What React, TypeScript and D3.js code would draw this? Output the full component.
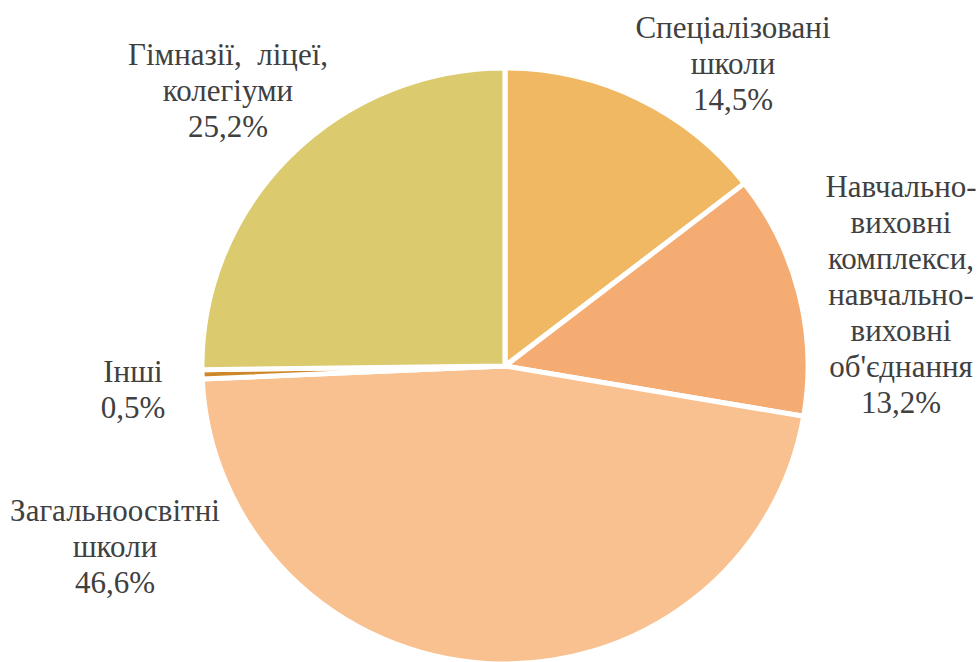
import React from "react";
import * as d3 from "d3";

const categories = [
  "Спеціалізовані школи",
  "Навчально-виховні комплекси, навчально-виховні об'єднання",
  "Загальноосвітні школи",
  "Інші",
  "Гімназії, ліцеї, колегіуми",
];
const values = [14.5, 13.2, 46.6, 0.5, 25.2];
const valueLabels = ["14,5%", "13,2%", "46,6%", "0,5%", "25,2%"];
const labelLines = [
  ["Спеціалізовані", "школи"],
  ["Навчально-", "виховні", "комплекси,", "навчально-", "виховні", "об'єднання"],
  ["Загальноосвітні", "школи"],
  ["Інші"],
  ["Гімназії,\u00A0 ліцеї,", "колегіуми"],
];
const colors = ["#F0B862", "#F4AC72", "#F9C190", "#CF8829", "#DCCA6E"];

const W = 979;
const H = 662;
const cx = 505;
const cy = 366;
const R = 298;
const sx = 1.017;

const labelPos: [number, number][] = [
  [733, 38],
  [901, 197],
  [115, 521],
  [133, 382],
  [228, 65],
];
const lineH = 36;

export default function App() {
  const pie = d3.pie<number>().sort(null).value((d) => d)(values);
  const arc = d3.arc<d3.PieArcDatum<number>>().innerRadius(0).outerRadius(R);
  const texts: { x: number; y: number; s: string; k: string }[] = [];
  labelLines.forEach((lines, i) => {
    const [x, y] = labelPos[i];
    [...lines, valueLabels[i]].forEach((l, j) => texts.push({ x, y: y + j * lineH, s: l, k: `${i}-${j}` }));
  });
  return (
    <svg width={W} height={H} style={{ position: "absolute", left: 0, top: 0, background: "#fff" }}>
      <style>{`.lbl { font-family: 'Liberation Serif' !important; }`}</style>
      <g transform={`translate(${cx},${cy}) scale(${sx},1)`}>
        {pie.map((p, i) => (
          <path key={i} d={arc(p) || ""} fill={colors[i]} stroke="#fff" strokeWidth={5} strokeLinejoin="round" />
        ))}
      </g>
      {texts.map((t) => (
        <text
          key={t.k}
          className="lbl"
          x={t.x}
          y={t.y}
          textAnchor="middle"
          fontSize={31}
          fill="#404040"
          fontFamily="Liberation Serif"
        >
          {t.s}
        </text>
      ))}
    </svg>
  );
}
